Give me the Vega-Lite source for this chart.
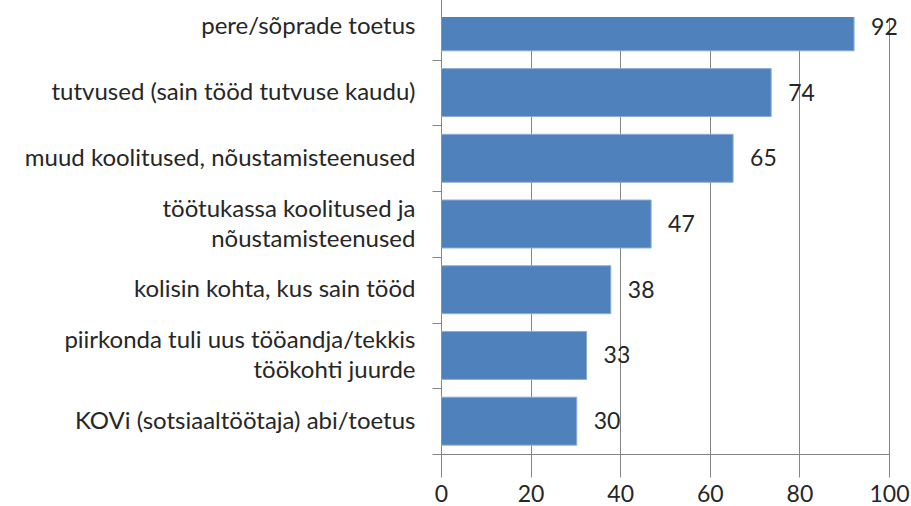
{
  "$schema": "https://vega.github.io/schema/vega-lite/v6.json",
  "width": 448,
  "height": 437,
  "autosize": {"type": "none"},
  "padding": {"left": 441, "top": 17, "right": 22, "bottom": 52},
  "background": "white",
  "config": {
    "view": {"stroke": null},
    "font": "Lato"
  },
  "data": {
    "values": [
      {"cat": "pere/sõprade toetus", "value": 92.2, "label": "92"},
      {"cat": "tutvused (sain tööd tutvuse kaudu)", "value": 73.7, "label": "74"},
      {"cat": "muud koolitused, nõustamisteenused", "value": 65.2, "label": "65"},
      {"cat": "töötukassa koolitused ja|nõustamisteenused", "value": 46.9, "label": "47"},
      {"cat": "kolisin kohta, kus sain tööd", "value": 37.9, "label": "38"},
      {"cat": "piirkonda tuli uus tööandja/tekkis|töökohti juurde", "value": 32.5, "label": "33"},
      {"cat": "KOVi (sotsiaaltöötaja) abi/toetus", "value": 30.3, "label": "30"}
    ]
  },
  "encoding": {
    "y": {
      "field": "cat",
      "type": "nominal",
      "sort": null,
      "scale": {"range": [-23, 437], "paddingInner": 0, "paddingOuter": 0},
      "axis": {
        "title": null,
        "tickBand": "extent",
        "tickSize": 9,
        "tickColor": "#868686",
        "domainColor": "#868686",
        "labelExpr": "isString(datum.value) ? split(datum.value, '|') : ''",
        "labelFont": "Lato",
        "labelFontSize": 24,
        "labelColor": "#262626",
        "labelPadding": 17,
        "labelLineHeight": 30,
        "labelOffset": {"condition": {"test": "isString(datum.value) && indexof(datum.value, '|') >= 0", "value": -15}, "value": 0},
        "labelLimit": 0,
        "grid": false
      }
    }
  },
  "layer": [
    {
      "mark": {"type": "bar", "color": "#4F81BD", "stroke": "#8CADD6", "strokeWidth": 1, "height": {"band": 0.73}, "clip": true},
      "encoding": {
        "x": {
          "field": "value",
          "type": "quantitative",
          "scale": {"domain": [0, 100], "nice": false},
          "axis": {
            "title": null,
            "values": [0, 20, 40, 60, 80, 100],
            "grid": true,
            "gridColor": "#868686",
            "gridWidth": 1,
            "tickSize": 9,
            "tickColor": "#868686",
            "domainColor": "#868686",
            "labelFont": "Lato",
            "labelFontSize": 23,
            "labelColor": "#262626",
            "labelPadding": 20,
            "labelFlush": false
          }
        }
      }
    },
    {
      "mark": {"type": "text", "align": "left", "baseline": "middle", "dx": 17, "dy": 1, "fontSize": 23, "font": "Lato", "color": "#262626"},
      "encoding": {
        "x": {"field": "value", "type": "quantitative"},
        "text": {"field": "label"}
      }
    }
  ]
}
